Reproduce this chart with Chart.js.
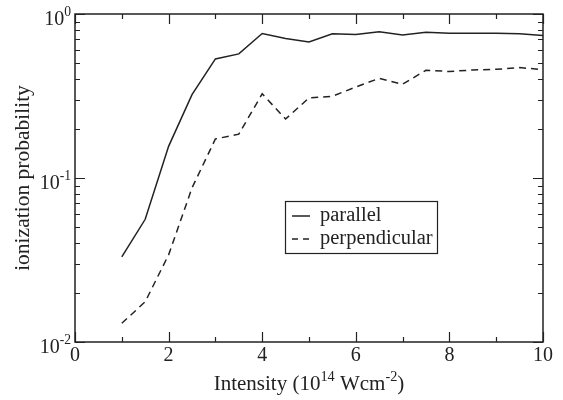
<!DOCTYPE html>
<html>
<head>
<meta charset="utf-8">
<script src="https://cdn.jsdelivr.net/npm/chart.js@4.4.1/dist/chart.umd.min.js"></script>
<style>
  html, body { margin: 0; padding: 0; background: #fff; }
  #wrap { width: 563px; height: 400px; }
</style>
</head>
<body>
<div id="wrap"><canvas id="chart" width="563" height="400"></canvas></div>
<script>
// intensity in 10^14 W/cm^2
const intensity = [1, 1.5, 2, 2.5, 3, 3.5, 4, 4.5, 5, 5.5, 6, 6.5, 7, 7.5, 8, 8.5, 9, 9.5, 10];
const parallel = [0.033, 0.056, 0.156, 0.322, 0.532, 0.571, 0.760, 0.709, 0.676, 0.757, 0.750, 0.778, 0.746, 0.774, 0.763, 0.763, 0.763, 0.757, 0.739];
const perpendicular = [0.0130, 0.0176, 0.034, 0.087, 0.173, 0.185, 0.326, 0.229, 0.308, 0.315, 0.359, 0.405, 0.373, 0.454, 0.446, 0.456, 0.460, 0.471, 0.458];

const xTicks = [0, 1, 2, 3, 4, 5, 6, 7, 8, 9, 10];
const xLabels = ['0', '2', '4', '6', '8', '10'];
const yDecades = [-2, -1, 0];

const FONT = '"Liberation Serif", "Times New Roman", serif';
const INK = '#222';

function pts(ys) {
    return intensity.map((x, i) => ({ x: x, y: ys[i] }));
}

// draws base text followed by a raised smaller superscript, returns width
function supText(ctx, parts, x, y, size, align) {
    let total = 0;
    parts.forEach(p => {
        ctx.font = (p.sup ? size * 0.68 : size) + 'px ' + FONT;
        total += ctx.measureText(p.t).width;
    });
    let cx = align === 'right' ? x - total : (align === 'center' ? x - total / 2 : x);
    ctx.textAlign = 'left';
    ctx.textBaseline = 'alphabetic';
    parts.forEach(p => {
        ctx.font = (p.sup ? size * 0.68 : size) + 'px ' + FONT;
        ctx.fillText(p.t, cx, p.sup ? y - size * 0.45 : y);
        cx += ctx.measureText(p.t).width;
    });
    return total;
}

const framePlugin = {
    id: 'frame',
    afterDraw(chart) {
        const ctx = chart.ctx;
        const a = chart.chartArea;
        const xs = chart.scales.x, ys = chart.scales.y;
        ctx.save();
        ctx.strokeStyle = INK;
        ctx.fillStyle = INK;
        ctx.lineWidth = 1.5;
        ctx.strokeRect(a.left, a.top, a.right - a.left, a.bottom - a.top);

        // x ticks, inward on bottom and top
        ctx.lineWidth = 1.2;
        xTicks.forEach(v => {
            const px = Math.round(xs.getPixelForValue(v)) + 0.5;
            const len = v % 2 === 0 ? 10 : 5;
            ctx.beginPath();
            ctx.moveTo(px, a.bottom); ctx.lineTo(px, a.bottom - len);
            ctx.moveTo(px, a.top); ctx.lineTo(px, a.top + len);
            ctx.stroke();
        });
        ctx.font = '20px ' + FONT;
        ctx.textAlign = 'center';
        ctx.textBaseline = 'alphabetic';
        xLabels.forEach(l => {
            ctx.fillText(l, xs.getPixelForValue(+l), a.bottom + 19);
        });

        // y ticks (log), inward on left and right
        yDecades.forEach(d => {
            for (let k = 1; k <= 9; k++) {
                const v = k * Math.pow(10, d);
                if (v > 1.0001) break;
                const py = Math.round(ys.getPixelForValue(v)) + 0.5;
                const len = k === 1 ? 10 : 5;
                ctx.beginPath();
                ctx.moveTo(a.left, py); ctx.lineTo(a.left + len, py);
                ctx.moveTo(a.right, py); ctx.lineTo(a.right - len, py);
                ctx.stroke();
                if (d === 0) break;
            }
        });
        yDecades.forEach(d => {
            const py = ys.getPixelForValue(Math.pow(10, d));
            supText(ctx, [{ t: '10' }, { t: String(d), sup: true }], a.left - 4, py + 11, 20, 'right');
        });

        // axis titles
        const cxp = (a.left + a.right) / 2;
        supText(ctx, [{ t: 'Intensity (10' }, { t: '14', sup: true }, { t: ' Wcm' }, { t: '-2', sup: true }, { t: ')' }], cxp, a.bottom + 48, 21, 'center');
        ctx.save();
        ctx.translate(29, (a.top + a.bottom) / 2);
        ctx.rotate(-Math.PI / 2);
        ctx.font = '21.5px ' + FONT;
        ctx.textAlign = 'center';
        ctx.textBaseline = 'alphabetic';
        ctx.fillText('ionization probability', 0, 0);
        ctx.restore();

        // legend box
        const lx = 285, ly = 201, lw = 152, lh = 52;
        ctx.lineWidth = 1.2;
        ctx.strokeRect(lx + 0.5, ly + 0.5, lw, lh);
        chart.data.datasets.forEach((ds, i) => {
            const y = ly + 15 + i * 23;
            ctx.beginPath();
            ctx.lineWidth = 1.5;
            ctx.setLineDash(ds.borderDash ? [6, 5] : []);
            ctx.moveTo(lx + 7, y); ctx.lineTo(lx + 25, y);
            ctx.stroke();
            ctx.setLineDash([]);
            ctx.font = '20.5px ' + FONT;
            ctx.textAlign = 'left';
            ctx.fillText(ds.label, lx + 35, y + 5);
        });
        ctx.restore();
    }
};

new Chart(document.getElementById('chart'), {
    type: 'line',
    data: {
        datasets: [
            { label: 'parallel', data: pts(parallel), borderColor: INK, borderWidth: 1.5, pointRadius: 0, tension: 0, fill: false },
            { label: 'perpendicular', data: pts(perpendicular), borderColor: INK, borderWidth: 1.5, borderDash: [7, 5], pointRadius: 0, tension: 0, fill: false }
        ]
    },
    options: {
        responsive: false,
        animation: false,
        layout: { padding: { left: 75, right: 20, top: 14, bottom: 58 } },
        plugins: { legend: { display: false }, tooltip: { enabled: false } },
        scales: {
            x: { type: 'linear', min: 0, max: 10, display: false },
            y: { type: 'logarithmic', min: 0.01, max: 1, display: false }
        }
    },
    plugins: [framePlugin]
});
</script>
</body>
</html>
